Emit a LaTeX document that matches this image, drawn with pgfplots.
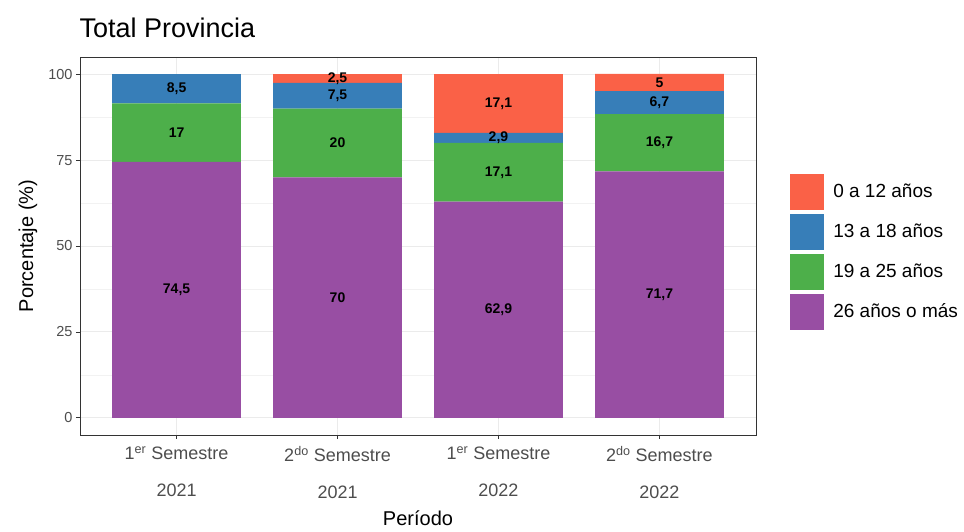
\documentclass[border=0pt]{standalone}
\usepackage{pgfplots}
\pgfplotsset{compat=1.18}
\usepackage{fontspec}
\setmainfont{Liberation Sans}

\definecolor{rojo}{HTML}{FA6147}
\definecolor{azul}{HTML}{377EB8}
\definecolor{verde}{HTML}{4DAF4A}
\definecolor{violeta}{HTML}{984EA3}
\definecolor{marco}{HTML}{333333}
\definecolor{textogris}{HTML}{4D4D4D}

\pgfplotsset{
  cuadro/.style={legend image code/.code={\fill[##1] (0pt,-18pt) rectangle (34pt,18pt);}},
  base/.style={width=676pt, height=378pt, scale only axis,
    xmin=-0.6, xmax=3.6, ymin=-5, ymax=105},
}

% etiquetas centradas en cada tramo
\pgfplotstableread{
x y etiqueta
0 37.25 74,5
0 83 17
0 95.75 8,5
1 35 70
1 80 20
1 93.75 7,5
1 98.75 2,5
2 31.45 62,9
2 71.45 17,1
2 81.45 2,9
2 91.45 17,1
3 35.85 71,7
3 80.05 16,7
3 91.75 6,7
3 97.6 5
}\etiquetas

\begin{document}
\begin{tikzpicture}
\useasboundingbox (-80pt,-97pt) rectangle (884pt,435pt);
\begin{axis}[
  base,
  ybar stacked, bar width=0.8,
  xtick={0,1,2,3},
  xticklabels={
    {1\textsuperscript{er} Semestre\\[16pt]2021},
    {2\textsuperscript{do} Semestre\\[16pt]2021},
    {1\textsuperscript{er} Semestre\\[16pt]2022},
    {2\textsuperscript{do} Semestre\\[16pt]2022}},
  ytick={0,25,50,75,100},
  minor ytick={12.5,37.5,62.5,87.5},
  grid=both,
  major grid style={draw=black!8, line width=0.9pt},
  minor grid style={draw=black!5, line width=0.5pt},
  axis line style={draw=marco, line width=0.9pt},
  tick pos=left, tick align=outside,
  major tick length=4pt, minor tick length=0pt,
  tick style={draw=marco, line width=0.8pt},
  xticklabel style={align=center, text=textogris, yshift=-4pt,
    font=\fontsize{18}{21}\selectfont},
  yticklabel style={text=textogris, font=\fontsize{14.5}{17}\selectfont},
  /pgf/number format/assume math mode=true,
  title={Total Provincia},
  title style={at={(axis description cs:0,1)}, anchor=south west, yshift=10pt,
    xshift=-4pt, font=\fontsize{27}{31}\selectfont},
  ylabel={Porcentaje (\%)},
  ylabel style={at={(axis description cs:-0.077,0.5)}, anchor=center,
    font=\fontsize{20}{24}\selectfont},
  xlabel={Período},
  xlabel style={at={(axis description cs:0.5,-0.22)}, anchor=center,
    font=\fontsize{20}{24}\selectfont},
  legend style={at={(axis description cs:1.046,0.697)}, anchor=north west,
    draw=none, fill=none, font=\fontsize{19}{22}\selectfont,
    row sep=4pt, /tikz/every odd column/.append style={column sep=7pt}},
  legend cell align=left,
  reverse legend,
]
\addplot[fill=violeta, draw=none, cuadro] coordinates {(0,74.5) (1,70) (2,62.9) (3,71.7)};
\addplot[fill=verde, draw=none, cuadro] coordinates {(0,17) (1,20) (2,17.1) (3,16.7)};
\addplot[fill=azul, draw=none, cuadro] coordinates {(0,8.5) (1,7.5) (2,2.9) (3,6.7)};
\addplot[fill=rojo, draw=none, cuadro] coordinates {(0,0) (1,2.5) (2,17.1) (3,5)};
\legend{26 años o más, 19 a 25 años, 13 a 18 años, 0 a 12 años}
\end{axis}
\begin{axis}[base, hide axis, clip=false]
\addplot[only marks, mark=none, nodes near coords, point meta=explicit symbolic,
  every node near coord/.append style={anchor=center,
    font=\bfseries\fontsize{14}{16}\selectfont, text=black}]
  table[x=x, y=y, meta=etiqueta] {\etiquetas};
\end{axis}
\end{tikzpicture}
\end{document}
